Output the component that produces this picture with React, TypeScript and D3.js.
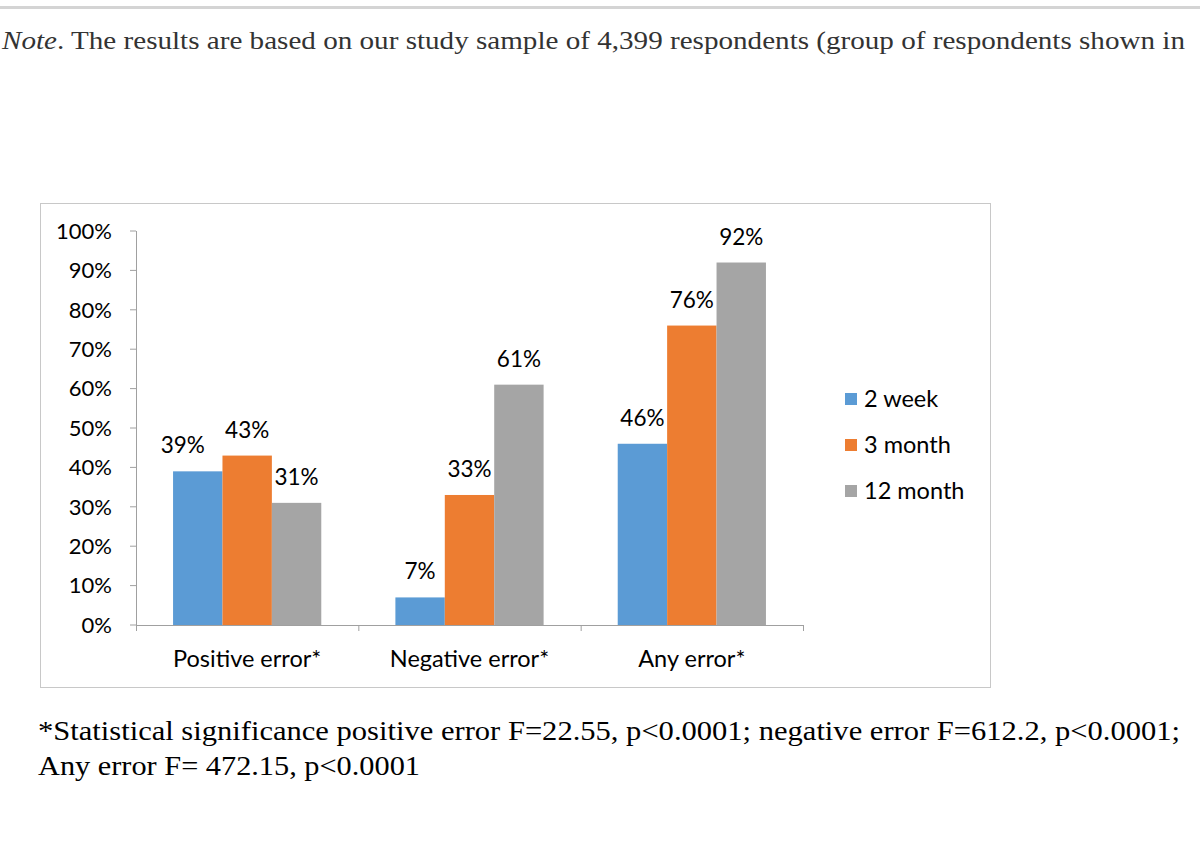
import React from 'react';
import * as d3 from 'd3';

// Chart data
const categories = ['Positive error*', 'Negative error*', 'Any error*'];
const seriesNames = ['2 week', '3 month', '12 month'];
const seriesColours = ['#5B9BD5', '#ED7D31', '#A5A5A5'];
const values = [
  [0.39, 0.07, 0.46], // 2 week
  [0.43, 0.33, 0.76], // 3 month
  [0.31, 0.61, 0.92], // 12 month
];
const yTicks = [0, 0.1, 0.2, 0.3, 0.4, 0.5, 0.6, 0.7, 0.8, 0.9, 1.0];

const noteText =
  'The results are based on our study sample of 4,399 respondents (group of respondents shown in';
const footLine1 =
  '*Statistical significance positive error F=22.55, p<0.0001; negative error F=612.2, p<0.0001;';
const footLine2 = 'Any error F= 472.15, p<0.0001';

const W = 1200;
const H = 861;
const chartFont = 'Lato, "Open Sans", sans-serif';
const serifFont = '"Liberation Serif", "DejaVu Serif", serif';

export default function App(): JSX.Element {
  const margin = { top: 231, bottom: 625, left: 136, right: 803 };

  const x = d3.scaleBand<string>()
    .domain(categories)
    .range([margin.left, margin.right])
    .paddingInner(1 / 3)
    .paddingOuter(1 / 6);

  const xSeries = d3.scaleBand<string>()
    .domain(seriesNames)
    .range([0, x.bandwidth()])
    .padding(0);

  const y = d3.scaleLinear()
    .domain([0, 1])
    .range([margin.bottom, margin.top]);

  const step = x.step();
  const boundaries = d3.range(categories.length + 1).map(i => margin.left + i * step);

  return (
    <svg
      width={W}
      height={H}
      style={{ position: 'absolute', left: 0, top: 0, background: '#fff' }}
    >
      <rect x={0} y={0} width={W} height={H} fill="#fff" />
      {/* page rule at the top */}
      <rect x={0} y={6} width={W} height={3} fill="#d4d4d4" />

      {/* note line, cut at the right edge as in the page */}
      <text x={2} y={49} fontFamily={serifFont} fontSize={26} fill="#333" textLength={1183} lengthAdjust="spacingAndGlyphs">
        <tspan fontStyle="italic">Note</tspan>. {noteText}
      </text>

      {/* chart frame */}
      <rect x={40.5} y={203.5} width={950} height={484} fill="#fff" stroke="#c8c8c8" strokeWidth={1} />

      {/* y axis */}
      <g fontFamily={chartFont} fontSize={22} fill="#000">
        <line x1={margin.left + 0.5} x2={margin.left + 0.5} y1={margin.top} y2={margin.bottom} stroke="#a0a0a0" />
        {yTicks.map(t => (
          <g key={t} transform={`translate(0,${y(t)})`}>
            <line x1={130} x2={margin.left} stroke="#a0a0a0" />
            <text x={112} dy="0.35em" textAnchor="end">
              {Math.round(t * 100) + '%'}
            </text>
          </g>
        ))}
      </g>

      {/* bars */}
      {categories.map((cat, ci) => (
        <g key={cat} transform={`translate(${x(cat)},0)`}>
          {seriesNames.map((s, si) => (
            <rect
              key={s}
              x={xSeries(s)}
              y={y(values[si][ci])}
              width={xSeries.bandwidth()}
              height={y(0) - y(values[si][ci])}
              fill={seriesColours[si]}
            />
          ))}
        </g>
      ))}

      {/* x axis */}
      <line x1={margin.left} x2={margin.right} y1={margin.bottom + 0.5} y2={margin.bottom + 0.5} stroke="#a0a0a0" />
      {boundaries.map((b, i) => (
        <line key={i} x1={b + 0.5} x2={b + 0.5} y1={margin.bottom} y2={margin.bottom + 6} stroke="#a0a0a0" />
      ))}
      <g fontFamily={chartFont} fontSize={23.5} fill="#000">
        {categories.map(cat => (
          <text key={cat} x={(x(cat) ?? 0) + x.bandwidth() / 2} y={667} textAnchor="middle">
            {cat}
          </text>
        ))}
      </g>

      {/* value labels */}
      <g fontFamily={chartFont} fontSize={22.5} fill="#000">
        {categories.map((cat, ci) =>
          seriesNames.map((s, si) => {
            // Excel nudged the first label left to clear its neighbour
            const nudge = ci === 0 && si === 0 ? -15 : 0;
            return (
              <text
                key={cat + s}
                x={(x(cat) ?? 0) + (xSeries(s) ?? 0) + xSeries.bandwidth() / 2 + nudge}
                y={y(values[si][ci]) - 18}
                textAnchor="middle"
              >
                {Math.round(values[si][ci] * 100) + '%'}
              </text>
            );
          })
        )}
      </g>

      {/* legend */}
      <g fontFamily={chartFont} fontSize={23.5} fill="#000">
        {seriesNames.map((s, i) => (
          <g key={s} transform={`translate(845,${399 + i * 46})`}>
            <rect x={0} y={-6} width={12} height={12} fill={seriesColours[i]} />
            <text x={19} dy="0.35em">{s}</text>
          </g>
        ))}
      </g>

      {/* footnote */}
      <g fontFamily={serifFont} fontSize={26.5} fill="#000">
        <text x={38} y={740} textLength={1142} lengthAdjust="spacingAndGlyphs">{footLine1}</text>
        <text x={38} y={775} textLength={382} lengthAdjust="spacingAndGlyphs">{footLine2}</text>
      </g>
    </svg>
  );
}
